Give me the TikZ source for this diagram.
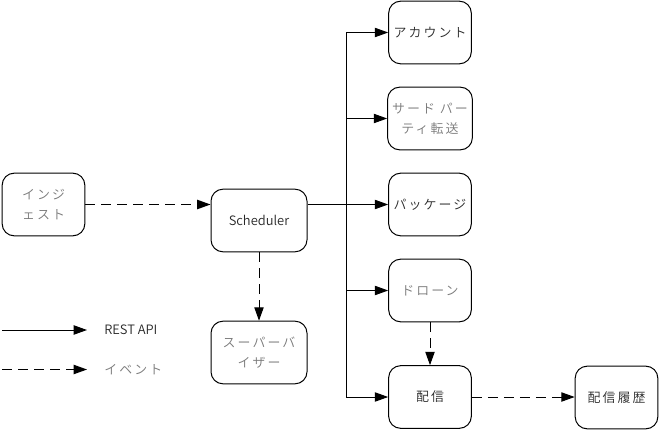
\documentclass[tikz,border=0pt]{standalone}
\usepackage{fontspec}
\setmainfont{Noto Sans CJK JP}[UprightFont=* DemiLight]
\newfontfamily\jpfont{Noto Sans CJK JP}[UprightFont=* DemiLight, LetterSpace=16]
\usetikzlibrary{arrows.meta,positioning}
\definecolor{lightlbl}{RGB}{120,120,120}
\definecolor{darklbl}{RGB}{40,40,40}
\tikzset{
  svc/.style={draw, line width=0.75pt, rounded corners=9pt, minimum width=62pt, minimum height=47pt,
    align=center, text=darklbl, font=\fontsize{9.7pt}{15pt}\selectfont},
  wide/.style={svc, minimum width=72pt},
  faded/.style={text=lightlbl},
  api/.style={line width=0.75pt, -{Triangle[length=10pt,width=7pt]}},
  event/.style={api, dash pattern=on 7.5pt off 4.5pt}
}
\begin{document}
\begin{tikzpicture}[x=0.75pt,y=-0.75pt]
\useasboundingbox (0,0) rectangle (660,431);

% services
\node[svc,faded] (ingest) at (43.5,204.5) {\jpfont インジ\\\jpfont ェスト};
\node[wide] (sched) at (259,220.5) {Scheduler};
\node[wide,faded] (superv) at (259,352.5) {\jpfont スーパーバ\\\jpfont イザー};
\node[svc] (acct) at (430,32.5) {\jpfont アカウント};
\node[svc,faded] (third) at (430,118.5) {\jpfont サード パー\\\jpfont ティ転送};
\node[svc] (pkg) at (430,204.5) {\jpfont パッケージ};
\node[svc,faded] (drone) at (430,290.5) {\jpfont ドローン};
\node[svc] (deliv) at (430,397) {\jpfont 配信};
\node[svc] (hist) at (616.5,397.5) {\jpfont 配信履歴};

% REST calls
\coordinate (spine) at (346,0);
\draw[line width=0.75pt] (spine |- acct) -- (spine |- deliv);
\draw[api] (sched.east |- pkg) -- (pkg.west);
\foreach \n in {acct,third,drone,deliv}
    \draw[api] (spine |- \n) -- (\n.west);

% events
\draw[event] (ingest.east) -- (sched.west |- ingest.east);
\draw[event] (sched.south) -- (superv.north);
\draw[event] (drone.south) -- (deliv.north);
\draw[event] (deliv.east) -- (hist.west |- deliv.east);

% legend
\coordinate (restA) at (2,330);
\coordinate (restB) at (87,330);
\coordinate (evtA) at (2,369.5);
\coordinate (evtB) at (87,369.5);
\draw[api] (restA) -- (restB);
\draw[event] (evtA) -- (evtB);
\node[anchor=west, font=\fontsize{9.7pt}{12pt}\selectfont, inner sep=0pt, text=darklbl] (restlbl) at (104,330) {REST API};
\node[anchor=west, font=\fontsize{9.7pt}{12pt}\selectfont, inner sep=0pt, faded] (evtlbl) at (104,369.5) {\jpfont イベント};
\end{tikzpicture}
\end{document}
